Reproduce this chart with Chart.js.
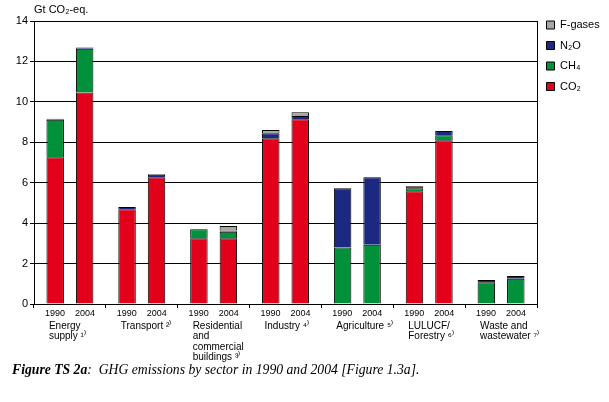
<!DOCTYPE html>
<html><head><meta charset="utf-8">
<script src="https://cdn.jsdelivr.net/npm/chart.js@4"></script>
<style>
html,body{margin:0;padding:0;background:#fff;}
#wrap{position:relative;width:609px;height:402px;overflow:hidden;}
canvas{position:absolute;left:0;top:0;}
#cap{position:absolute;left:12px;top:362px;font-family:"Liberation Serif","Times New Roman",serif;font-style:italic;font-size:13.7px;color:#000;white-space:nowrap;}
</style></head><body>
<div id="wrap"><canvas id="c" width="609" height="402"></canvas>
<div id="cap"><b>Figure TS 2a</b>:&nbsp; GHG emissions by sector in 1990 and 2004 [Figure 1.3a].</div></div>
<script>
const sectors = ['Energy supply', 'Transport', 'Residential and commercial buildings', 'Industry', 'Agriculture', 'LULUCF/Forestry', 'Waste and wastewater'];
const sectorLabels = [['Energy', 'supply ¹⁾'], ['Transport ²⁾'], ['Residential', 'and', 'commercial', 'buildings ³⁾'], ['Industry ⁴⁾'], ['Agriculture ⁵⁾'], ['LULUCF/', 'Forestry ⁶⁾'], ['Waste and', 'wastewater ⁷⁾']];
const years = ['1990', '2004'];
const yTicks = [0, 2, 4, 6, 8, 10, 12, 14];
const gasNames = ['CO₂', 'CH₄', 'N₂O', 'F-gases'];
const unitLabel = 'Gt CO₂-eq.';

const co2_1990 = [7.26, 4.69, 3.25, 8.20, null, 5.58, null];
const ch4_1990 = [1.85, null, 0.45, null, 2.80, 0.14, 1.07];
const n2o_1990 = [0.06, 0.11, null, 0.25, 2.92, 0.10, 0.12];
const fg_1990  = [null, null, null, 0.16, null, null, null];

const co2_2004 = [10.46, 6.27, 3.25, 9.14, null, 8.10, null];
const ch4_2004 = [2.17, null, 0.33, null, 2.93, 0.25, 1.25];
const n2o_2004 = [0.06, 0.12, 0.05, 0.16, 3.34, 0.21, 0.14];
const fg_2004  = [null, 0.04, 0.23, 0.19, null, null, null];

const colors = ['#E2001A', '#00913A', '#1B2A80', '#A6A6A6'];

const series1990 = [co2_1990, ch4_1990, n2o_1990, fg_1990];
const series2004 = [co2_2004, ch4_2004, n2o_2004, fg_2004];

const datasets = [];
series1990.forEach((d, i) => datasets.push({label: gasNames[i], data: d, stack: years[0], backgroundColor: colors[i]}));
series2004.forEach((d, i) => datasets.push({label: gasNames[i], data: d, stack: years[1], backgroundColor: colors[i]}));
datasets.forEach(ds => { ds.borderColor = '#000'; ds.borderWidth = 1; ds.categoryPercentage = 0.82; ds.barPercentage = 0.593; });

Chart.defaults.font.family = '"Liberation Sans", Arial, Helvetica, sans-serif';
Chart.defaults.color = '#000';

new Chart(document.getElementById('c'), {
  type: 'bar',
  data: { labels: sectors, datasets: datasets },
  options: {
    responsive: false,
    animation: false,
    devicePixelRatio: 1,
    layout: { padding: { top: 10, right: 0, bottom: 37.2, left: 0 } },
    plugins: {
      tooltip: { enabled: false },
      title: {
        display: true, text: unitLabel, align: 'start', fullSize: false,
        font: { size: 11, weight: 'normal', lineHeight: 1 },
        padding: { top: -6, bottom: 6 }, color: '#000'
      },
      legend: {
        position: 'right', align: 'start', reverse: true, maxWidth: 72,
        labels: {
          boxWidth: 8, boxHeight: 8, padding: 9.5, color: '#000',
          font: { size: 11 },
          filter: (item) => item.datasetIndex < 4
        }
      }
    },
    scales: {
      x: {
        stacked: true,
        offset: true,
        grid: { display: true, drawOnChartArea: false, drawTicks: true, tickLength: 4, color: '#000', offset: true },
        border: { display: true, color: '#000', width: 1 },
        ticks: { font: { size: 9, lineHeight: 1.2 }, padding: 0, maxRotation: 0, autoSkip: false,
                 callback: () => years.join('    ') }
      },
      x2: {
        type: 'category',
        labels: sectorLabels,
        position: 'bottom',
        weight: 1,
        offset: true,
        grid: { display: false, drawTicks: false },
        border: { display: false },
        ticks: { font: { size: 10, lineHeight: 1.05 }, padding: 2, align: 'start', labelOffset: -21, maxRotation: 0, autoSkip: false }
      },
      y: {
        stacked: true,
        min: 0, max: 14,
        afterFit: (s) => { s.width = 34; },
        afterBuildTicks: (s) => { s.ticks = yTicks.map(v => ({value: v})); },
        grid: { color: '#000', lineWidth: 1, tickLength: 4, drawTicks: true },
        border: { display: true, color: '#000', width: 1 },
        ticks: { font: { size: 11 }, padding: 2 }
      },
      y2: {
        position: 'right',
        min: 0, max: 14,
        afterFit: (s) => { s.width = 0; },
        grid: { display: false, drawOnChartArea: false, drawTicks: false },
        border: { display: true, color: '#000', width: 1 },
        ticks: { display: false }
      }
    }
  }
});
</script>
</body></html>
